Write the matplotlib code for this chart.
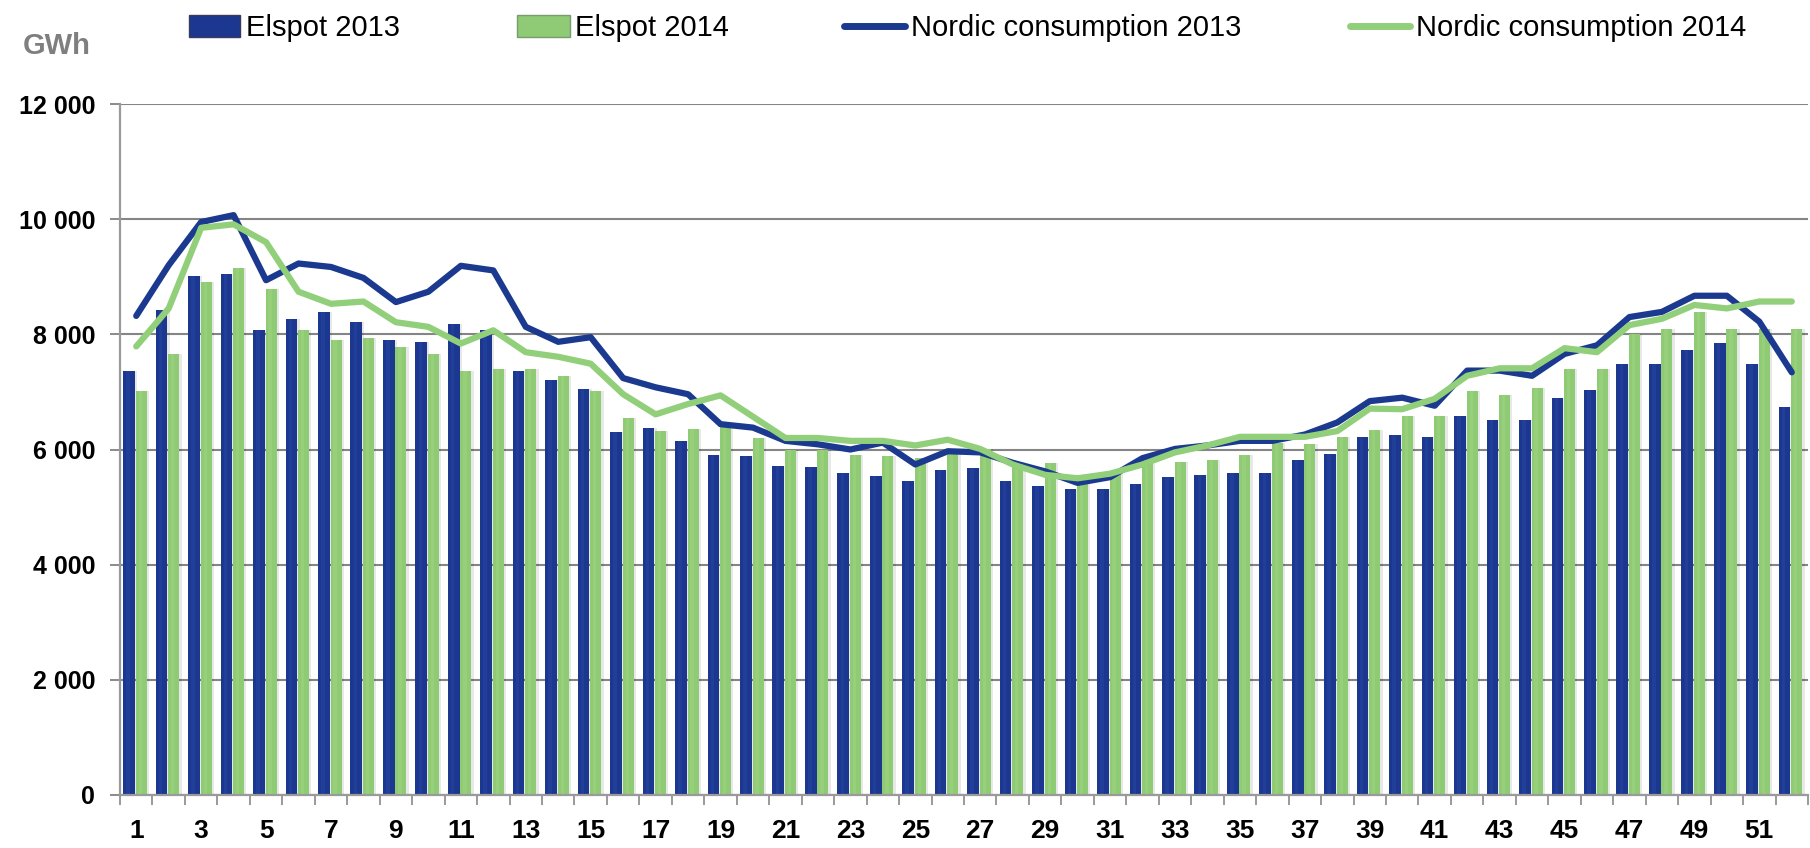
import matplotlib
matplotlib.use("Agg")
import matplotlib.pyplot as plt
import numpy as np
from matplotlib.ticker import FuncFormatter, FixedLocator
from matplotlib.lines import Line2D
from matplotlib.patches import Patch

weeks = list(range(1, 53))
elspot_2013 = [7370, 8430, 9010, 9040, 8070, 8270, 8390, 8220, 7900, 7860,
               8180, 8070, 7370, 7210, 7050, 6310, 6370, 6150, 5900, 5880,
               5720, 5700, 5590, 5540, 5460, 5640, 5680, 5450, 5360, 5310,
               5310, 5400, 5520, 5560, 5600, 5590, 5810, 5930, 6210, 6250,
               6210, 6580, 6510, 6510, 6900, 7040, 7490, 7490, 7730, 7850,
               7490, 6740]
elspot_2014 = [7010, 7650, 8910, 9160, 8790, 8070, 7910, 7940, 7780, 7660,
               7370, 7400, 7400, 7280, 7010, 6540, 6320, 6350, 6450, 6200,
               5990, 5990, 5910, 5880, 5850, 6000, 6010, 5770, 5770, 5560,
               5570, 5740, 5780, 5810, 5910, 6110, 6090, 6210, 6340, 6580,
               6580, 7020, 6950, 7060, 7390, 7390, 8010, 8100, 8390, 8100,
               8100, 8100]
consumption_2013 = [8320, 9200, 9950, 10070, 8940, 9230, 9170, 8980, 8560, 8740,
                    9190, 9110, 8130, 7870, 7950, 7240, 7080, 6960, 6440, 6380,
                    6150, 6090, 6000, 6120, 5740, 5970, 5950, 5770, 5620, 5420,
                    5520, 5850, 6010, 6070, 6150, 6150, 6260, 6470, 6840, 6900,
                    6760, 7370, 7370, 7280, 7660, 7810, 8300, 8390, 8670, 8670,
                    8220, 7340]
consumption_2014 = [7790, 8450, 9850, 9910, 9600, 8740, 8530, 8570, 8210, 8130,
                    7840, 8070, 7690, 7610, 7490, 6960, 6610, 6790, 6940, 6570,
                    6200, 6200, 6150, 6150, 6070, 6170, 6010, 5740, 5560, 5500,
                    5580, 5740, 5950, 6070, 6220, 6220, 6220, 6320, 6710, 6700,
                    6880, 7280, 7410, 7410, 7760, 7690, 8160, 8270, 8510, 8450,
                    8570, 8570]
x_labels = [str(w) for w in range(1, 53, 2)]
legend_labels = ["Elspot 2013", "Elspot 2014", "Nordic consumption 2013", "Nordic consumption 2014"]

BLUE = "#1b3790"
BLUE_HI = "#4a6fd0"
GREEN = "#8fca74"
GREEN_HI = "#b8e49c"
LINE_BLUE = "#1b3a8f"
LINE_GREEN = "#92cf7a"

plt.rcParams["font.family"] = ["Liberation Sans", "DejaVu Sans"]

W, H = 1810, 848
fig = plt.figure(figsize=(W / 100, H / 100), dpi=100)
ax = fig.add_axes([120 / W, 1 - 795 / H, (1808 - 120) / W, (795 - 104) / H])

x = np.array(weeks, dtype=float)
wb, wg = 0.36, 0.34
xb = x - 0.22
xg = x + 0.155

# soft shadows
ax.bar(xb + 0.07, elspot_2013, width=wb, color="#000000", alpha=0.09, zorder=1, linewidth=0)
ax.bar(xg + 0.07, elspot_2014, width=wg, color="#000000", alpha=0.09, zorder=1, linewidth=0)
# bars with a faint highlight strip
ax.bar(xb, elspot_2013, width=wb, color=BLUE, zorder=2, linewidth=0)
ax.bar(xb - 0.03, elspot_2013, width=wb * 0.3, color=BLUE_HI, alpha=0.15, zorder=2.1, linewidth=0)
ax.bar(xg, elspot_2014, width=wg, color=GREEN, zorder=2, linewidth=0)
ax.bar(xg - 0.03, elspot_2014, width=wg * 0.3, color=GREEN_HI, alpha=0.2, zorder=2.1, linewidth=0)

ax.plot(x, consumption_2013, color=LINE_BLUE, lw=4.5, zorder=4, solid_capstyle="round", solid_joinstyle="round")
ax.plot(x, consumption_2014, color=LINE_GREEN, lw=4.5, zorder=5, solid_capstyle="round", solid_joinstyle="round")

ax.set_xlim(0.5, 52.5)
ax.set_ylim(0, 12000)
ax.set_yticks(range(0, 12001, 2000))
ax.yaxis.set_major_formatter(FuncFormatter(lambda v, p: f"{int(v):,}".replace(",", " ")))
ax.grid(axis="y", color="#858585", lw=1.5, zorder=0)
ax.set_axisbelow(True)

ax.set_xticks(list(range(1, 53, 2)))
ax.set_xticklabels(x_labels)
ax.xaxis.set_minor_locator(FixedLocator(np.arange(0.5, 53, 1.0)))
ax.tick_params(axis="x", which="major", length=0, pad=17, labelsize=19)
ax.tick_params(axis="x", which="minor", length=7, width=1.4, color="#9a9a9a")
ax.tick_params(axis="y", length=7, width=1.4, color="#8a8a8a", pad=11, labelsize=18)
for lab in ax.get_xticklabels() + ax.get_yticklabels():
    lab.set_fontweight("bold")

for s in ["top", "right"]:
    ax.spines[s].set_visible(False)
for s in ["left", "bottom"]:
    ax.spines[s].set_color("#9a9a9a")
    ax.spines[s].set_linewidth(1.6)

fig.text(23 / W, 1 - 46 / H, "GWh", fontsize=21, fontweight="bold", color="#7f7f7f",
         va="center", ha="left")

handles = [Patch(facecolor=BLUE, edgecolor="#3a3a5a", linewidth=1.0),
           Patch(facecolor=GREEN, edgecolor="#7a9a70", linewidth=1.0),
           Line2D([0], [0], color=LINE_BLUE, lw=5, solid_capstyle="round"),
           Line2D([0], [0], color=LINE_GREEN, lw=5, solid_capstyle="round")]
starts = [189, 517, 844, 1350]
hlens = [1.75, 1.8, 2.1, 2.05]
for h, lab, sx, hl in zip(handles, legend_labels, starts, hlens):
    fig.legend([h], [lab], loc="center left", bbox_to_anchor=(sx / W, 1 - 28 / H),
               frameon=False, fontsize=21, handlelength=hl, handleheight=0.75,
               handletextpad=0.2, borderpad=0, borderaxespad=0)

fig.savefig("out.png", dpi=100)
